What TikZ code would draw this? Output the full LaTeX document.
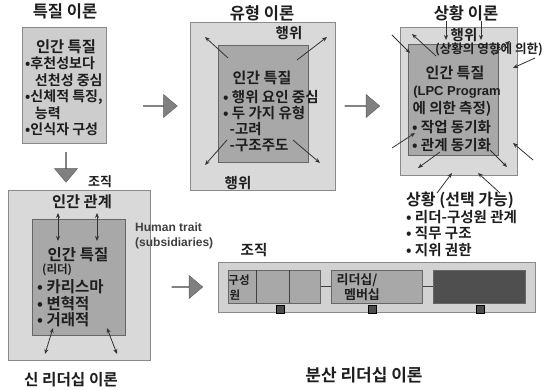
\documentclass[tikz,border=0pt]{standalone}
\usepackage{fontspec}
\setmainfont{Noto Sans CJK KR}[BoldFont={Noto Sans CJK KR Bold}]
\newfontfamily\latinf{Liberation Sans}
\usetikzlibrary{shapes.arrows,arrows.meta}
\definecolor{outerc}{HTML}{D9D9D9}
\definecolor{innerc}{HTML}{A8A8A8}
\definecolor{oneC}{HTML}{CDCDCD}
\definecolor{fiveC}{HTML}{D2D2D2}
\definecolor{darkc}{HTML}{4F4F4F}
\definecolor{bordc}{HTML}{8A8A8A}
\definecolor{txtc}{HTML}{1E1E1E}
\newcommand{\fs}[2]{\fontsize{#1}{#2}\selectfont\bfseries}
\tikzset{
  ttl/.style={font=\fs{16.5}{18}, inner sep=0, text=txtc},
  body/.style={font=\fs{13}{16.5}, inner sep=0, text=txtc},
  smallbody/.style={font=\fs{11.5}{14}, inner sep=0, text=txtc},
  obox/.style={draw=bordc, fill=outerc, line width=0.7pt, inner sep=0, anchor=north west},
  ibox/.style={draw=black!60, fill=innerc, line width=0.7pt, inner sep=0, anchor=north west},
  barrow/.style={single arrow, draw=black!65, fill=black!50, inner sep=0, minimum width=23pt, single arrow head extend=5pt, single arrow tip angle=80},
  ptr/.style={-{Stealth[length=5pt,width=4pt]}, line width=0.8pt, draw=black!80},
  dptr/.style={{Stealth[length=5pt,width=4pt]}-{Stealth[length=5pt,width=4pt]}, line width=0.8pt, draw=black!80},
  sq/.style={draw=black, fill=black!70, minimum size=8pt, inner sep=0},
  link/.style={draw=black!75, line width=0.7pt}
}
\begin{document}
\begin{tikzpicture}[x=1pt,y=-1pt]
\useasboundingbox (0,0) rectangle (547,390);
\fill[white] (0,0) rectangle (547,390);

% ---------- panel 1 : trait theory
\node[ttl] (t1) at (65,11) {특질 이론};
\node[obox, fill=oneC, minimum width=84pt, minimum height=116pt] (b1) at (22,27) {};
\node[body, font=\fs{15.3}{16.5}] (b1h) at (66,47) {인간 특질};
\node[body, anchor=west, align=left, font=\fs{14}{16.6}] (b1l) at (25,96.5) {•후천성보다\\\hspace*{0.7em}선천성 중심\\•신체적 특징,\\\hspace*{0.7em}능력\\•인식자 구성};

% block arrows
\node[barrow, minimum height=34pt] (a1) at (160,106) {};
\node[barrow, minimum height=30pt, shape border rotate=270] (a2) at (66,167) {};
\node[barrow, minimum height=35pt] (a3) at (362,106) {};
\node[barrow, minimum height=31pt] (a4) at (187,287) {};

% ---------- panel 2 : style theory
\node[ttl] (t2) at (262,13) {유형 이론};
\node[obox, minimum width=145pt, minimum height=168pt] (b2) at (190,22) {};
\node[ibox, minimum width=90pt, minimum height=117pt] (b2i) at (218,45) {};
\node[body, font=\fs{14.5}{16}] (b2a) at (289,33) {행위};
\node[body, font=\fs{14.5}{16}] (b2b) at (238,183) {행위};
\node[body, font=\fs{15}{16}] (b2h) at (262,78) {인간 특질};
\node[body, anchor=west, align=left, font=\fs{14.5}{16.2}] (b2l) at (223,121) {• 행위 요인 중심\\• 두 가지 유형\\\hspace*{0.45em}-고려\\\hspace*{0.45em}-구조주도};
\coordinate (p2a) at (228,58); \coordinate (q2a) at (205,37);
\coordinate (p2b) at (297,60); \coordinate (q2b) at (327,37);
\coordinate (p2c) at (227,140); \coordinate (q2c) at (205,165);
\coordinate (p2d) at (293,140); \coordinate (q2d) at (320,163);
\draw[ptr] (p2a) -- (q2a);
\draw[ptr] (p2b) -- (q2b);
\draw[ptr] (p2c) -- (q2c);
\draw[ptr] (p2d) -- (q2d);

% ---------- panel 3 : situational theory
\node[ttl] (t3) at (466,13) {상황 이론};
\node[obox, minimum width=117pt, minimum height=148pt] (b3) at (400,27) {};
\node[ibox, minimum width=90pt, minimum height=111pt] (b3i) at (408,44) {};
\node[body, font=\fs{14.5}{16}] (b3a) at (464,35) {행위};
\node[smallbody, font=\fs{12.6}{14}] (b3b) at (489,49) {(상황의 영향에 의한)};
\node[body, font=\fs{15}{16}] (b3h) at (455,73) {인간 특질};
\node[body, font=\fs{13}{16}\latinf] (b3p) at (457,92) {(LPC Program};
\node[body, font=\fs{14.5}{16}] (b3q) at (452,109) {에 의한 측정)};
\node[body, anchor=west, align=left, font=\fs{14.5}{18}] (b3l) at (412,136) {• 작업 동기화\\• 관계 동기화};
\node[ttl, anchor=west, font=\fs{16}{18}] (b3s) at (406,200) {상황 (선택 가능)};
\node[body, anchor=west, align=left, font=\fs{14.5}{16.6}] (b3m) at (406,233.5) {• 리더-구성원 관계\\• 직무 구조\\• 지위 권한};
\coordinate (p3a) at (446,21); \coordinate (q3a) at (446,40);
\coordinate (p3b) at (481,21); \coordinate (q3b) at (481,40);
\coordinate (p3c) at (392,35); \coordinate (q3c) at (410,53);
\coordinate (p3d) at (436,56); \coordinate (q3d) at (412,34);
\coordinate (p3e) at (493,55); \coordinate (q3e) at (510,41);
\coordinate (p3f) at (535,58); \coordinate (q3f) at (513,68);
\coordinate (p3g) at (392,148); \coordinate (q3g) at (415,133);
\coordinate (p3h) at (440,152); \coordinate (q3h) at (418,168);
\coordinate (p3i) at (490,150); \coordinate (q3i) at (507,167);
\coordinate (p3j) at (533,160); \coordinate (q3j) at (513,143);
\coordinate (p3k) at (437,193); \coordinate (q3k) at (452,173);
\coordinate (p3l) at (500,193); \coordinate (q3l) at (478,173);
\foreach \s in {a,b,c,d,e,f,g,h,i,j,k,l} {\draw[ptr] (p3\s) -- (q3\s);}

% ---------- panel 4 : new leadership theory
\node[body] (t4o) at (100,182) {조직};
\node[obox, minimum width=142pt, minimum height=170pt] (b4) at (8,190) {};
\node[ibox, minimum width=93pt, minimum height=116pt] (b4i) at (32,219) {};
\node[body, font=\fs{15.3}{16}] (b4r) at (82,202) {인간 관계};
\node[body, font=\fs{15.5}{16}] (b4h) at (78,255) {인간 특질};
\node[smallbody, anchor=west] (b4d) at (42,270) {(리더)};
\node[body, anchor=west, align=left, font=\fs{15.5}{16.6}] (b4l) at (37,303.5) {• 카리스마\\• 변혁적\\• 거래적};
\coordinate (p4a) at (58,213); \coordinate (q4a) at (58,241);
\coordinate (p4b) at (97,213); \coordinate (q4b) at (97,241);
\coordinate (p4c) at (53,328); \coordinate (q4c) at (45,354);
\coordinate (p4d) at (107,328); \coordinate (q4d) at (117,354);
\foreach \s in {a,b,c,d} {\draw[dptr] (p4\s) -- (q4\s);}
\node[ttl, font=\fs{15.7}{18}] (t4) at (71,380) {신 리더십 이론};
\node[anchor=west, align=left, inner sep=0, font=\fs{12}{15}\latinf, text=txtc!85] (ht) at (135,235.5) {Human trait\\(subsidiaries)};

% ---------- panel 5 : distributed leadership
\node[body, font=\fs{14.5}{16}] (t5o) at (254,250) {조직};
\node[obox, fill=fiveC, minimum width=317pt, minimum height=50pt] (b5) at (218,262) {};
\node[ibox, minimum width=92pt, minimum height=33pt] (b5a) at (228,270) {};
\draw[link] (256,270) -- (256,303);
\draw[link] (289,270) -- (289,303);
\node[ibox, minimum width=91pt, minimum height=33pt] (b5b) at (331,270) {};
\node[ibox, fill=darkc, minimum width=92pt, minimum height=33pt] (b5c) at (433,270) {};
\draw[link] (b5a.east) -- (b5b.west);
\draw[link] (b5b.east) -- (b5c.west);
\node[smallbody] (b5t1) at (239,280) {구성};
\node[smallbody] (b5t2) at (235,295) {원};
\node[body] (b5t3) at (357,280) {리더십/};
\node[body] (b5t4) at (362,295) {멤버십};
\node[sq] (s1) at (280,309) {};
\node[sq] (s2) at (372,309) {};
\node[sq] (s3) at (480,309) {};
\node[ttl, font=\fs{17}{18}] (t5) at (364,375) {분산 리더십 이론};
\end{tikzpicture}
\end{document}
